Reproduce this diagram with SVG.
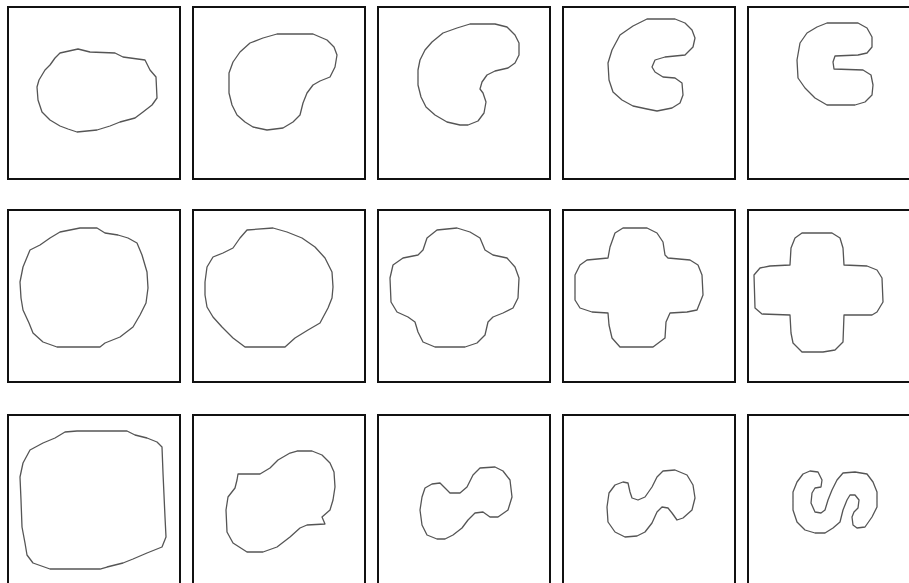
<svg xmlns="http://www.w3.org/2000/svg" width="909" height="583" viewBox="0 0 909 583">
<style>
.frame{fill:none;stroke:#111;stroke-width:2}
.shape{fill:none;stroke:#555;stroke-width:1.3;stroke-linejoin:round}
</style>
<rect width="909" height="583" fill="#fff"/>
<g id="r1c1"><rect class="frame" x="8" y="7" width="172" height="172"/>
<polygon class="shape" points="60,53 78,49 90,52 115,53 123,57 145,60 150,70 156,77 157,98 152,105 143,112 135,118 120,122 110,126 97,130 77,132 68,129 60,126 50,120 42,112 38,100 37,87 39,80 45,70 50,65 55,58"/></g>
<g id="r1c2"><rect class="frame" x="193" y="7" width="172" height="172"/>
<polygon class="shape" points="277,34 313,34 327,40 334,47 337,55 335,67 330,77 320,81 313,85 307,93 303,103 300,115 293,122 283,128 267,130 253,127 245,122 237,115 232,105 229,93 229,73 233,62 240,52 250,43 263,38"/></g>
<g id="r1c3"><rect class="frame" x="378" y="7" width="172" height="172"/>
<polygon class="shape" points="470,24 495,24 507,27 515,35 519,43 519,55 515,63 508,68 495,71 487,75 482,82 480,89 483,93 486,102 484,113 478,121 468,125 460,125 447,122 435,115 426,107 421,97 418,85 418,70 420,60 425,50 432,42 443,33 457,28"/></g>
<g id="r1c4"><rect class="frame" x="563" y="7" width="172" height="172"/>
<polygon class="shape" points="647,19 675,19 685,23 692,30 695,38 693,47 685,55 665,57 655,60 652,67 655,72 663,77 675,78 682,83 683,95 680,103 672,108 657,111 647,109 633,106 622,100 613,92 609,80 608,63 612,50 620,35 633,26"/></g>
<g id="r1c5"><rect class="frame" x="748" y="7" width="172" height="172"/>
<polygon class="shape" points="827,23 858,23 867,28 872,37 872,47 867,53 858,55 835,56 833,62 834,69 863,70 871,75 873,85 872,95 865,102 855,105 827,105 815,98 805,88 798,78 797,60 800,43 807,33 817,27"/></g>
<g id="r2c1"><rect class="frame" x="8" y="210" width="172" height="172"/>
<polygon class="shape" points="80,228 97,228 105,233 118,235 128,238 137,243 142,255 147,272 148,288 146,303 140,315 133,327 120,337 105,343 100,347 57,347 43,342 33,333 29,323 23,310 21,298 20,282 23,267 30,250 40,245 50,238 60,232"/></g>
<g id="r2c2"><rect class="frame" x="193" y="210" width="172" height="172"/>
<polygon class="shape" points="247,230 273,228 287,232 302,238 315,247 325,258 332,272 333,287 332,298 328,308 320,323 308,330 295,338 285,347 245,347 233,338 222,327 213,317 207,307 205,295 205,282 207,267 213,257 223,253 233,248 240,238"/></g>
<g id="r2c3"><rect class="frame" x="378" y="210" width="172" height="172"/>
<polygon class="shape" points="437,230 457,228 470,232 480,238 485,250 493,255 507,258 515,267 519,278 518,298 513,308 503,313 493,317 488,322 485,335 477,343 465,347 435,347 423,342 418,332 415,322 408,317 397,312 391,302 390,278 393,265 403,258 418,255 423,250 427,238"/></g>
<g id="r2c4"><rect class="frame" x="563" y="210" width="172" height="172"/>
<polygon class="shape" points="623,228 647,228 657,233 663,242 665,255 668,258 690,260 698,265 702,275 703,295 697,310 687,312 670,313 666,322 665,338 653,347 620,347 612,338 609,325 608,313 592,312 580,308 575,300 575,275 580,265 587,260 608,258 610,247 615,233"/></g>
<g id="r2c5"><rect class="frame" x="748" y="210" width="172" height="172"/>
<polygon class="shape" points="802,233 832,233 840,238 843,248 844,265 867,266 877,270 882,278 883,302 877,312 872,315 844,315 843,342 835,350 823,352 802,352 793,343 791,333 790,315 762,314 755,308 754,275 760,268 770,266 790,265 791,248 795,238"/></g>
<g id="r3c1"><rect class="frame" x="8" y="415" width="172" height="172"/>
<polygon class="shape" points="65,432 77,431 127,431 135,435 147,438 157,442 162,447 163,473 165,517 166,537 162,547 147,553 133,559 123,563 107,567 100,569 50,569 33,563 27,555 25,543 22,527 21,500 20,477 23,463 30,450 43,443 55,438"/></g>
<g id="r3c2"><rect class="frame" x="193" y="415" width="172" height="172"/>
<polygon class="shape" points="238,474 260,474 270,468 278,460 290,453 297,451 312,451 322,455 330,463 334,472 335,487 333,500 330,510 322,517 325,524 307,525 300,528 290,537 277,547 263,552 247,552 233,543 227,532 226,510 228,497 235,488 237,480"/></g>
<g id="r3c3"><rect class="frame" x="378" y="415" width="172" height="172"/>
<polygon class="shape" points="480,468 495,467 503,471 510,480 512,497 508,510 498,517 490,517 483,512 475,513 468,520 462,528 453,535 445,539 437,539 427,535 422,525 420,510 422,497 425,488 432,484 440,483 445,488 450,493 460,493 467,487 473,475"/></g>
<g id="r3c4"><rect class="frame" x="563" y="415" width="172" height="172"/>
<polygon class="shape" points="663,471 675,470 687,475 693,485 695,498 692,510 683,518 677,520 672,513 668,508 662,507 657,512 652,523 645,532 637,536 625,537 615,532 608,522 607,507 609,493 615,485 623,482 628,483 630,492 632,498 638,500 645,497 652,487 657,477"/></g>
<g id="r3c5"><rect class="frame" x="748" y="415" width="172" height="172"/>
<polygon class="shape" points="810,471 818,472 822,480 821,487 815,488 812,493 811,503 815,512 821,513 825,510 828,500 832,490 837,480 843,473 855,472 867,474 873,482 877,492 877,507 872,517 865,527 857,528 853,525 852,517 854,512 858,508 859,500 855,495 850,495 847,500 843,510 840,522 833,528 825,533 815,533 805,530 797,522 793,510 793,492 797,482 803,474"/></g>
</svg>
